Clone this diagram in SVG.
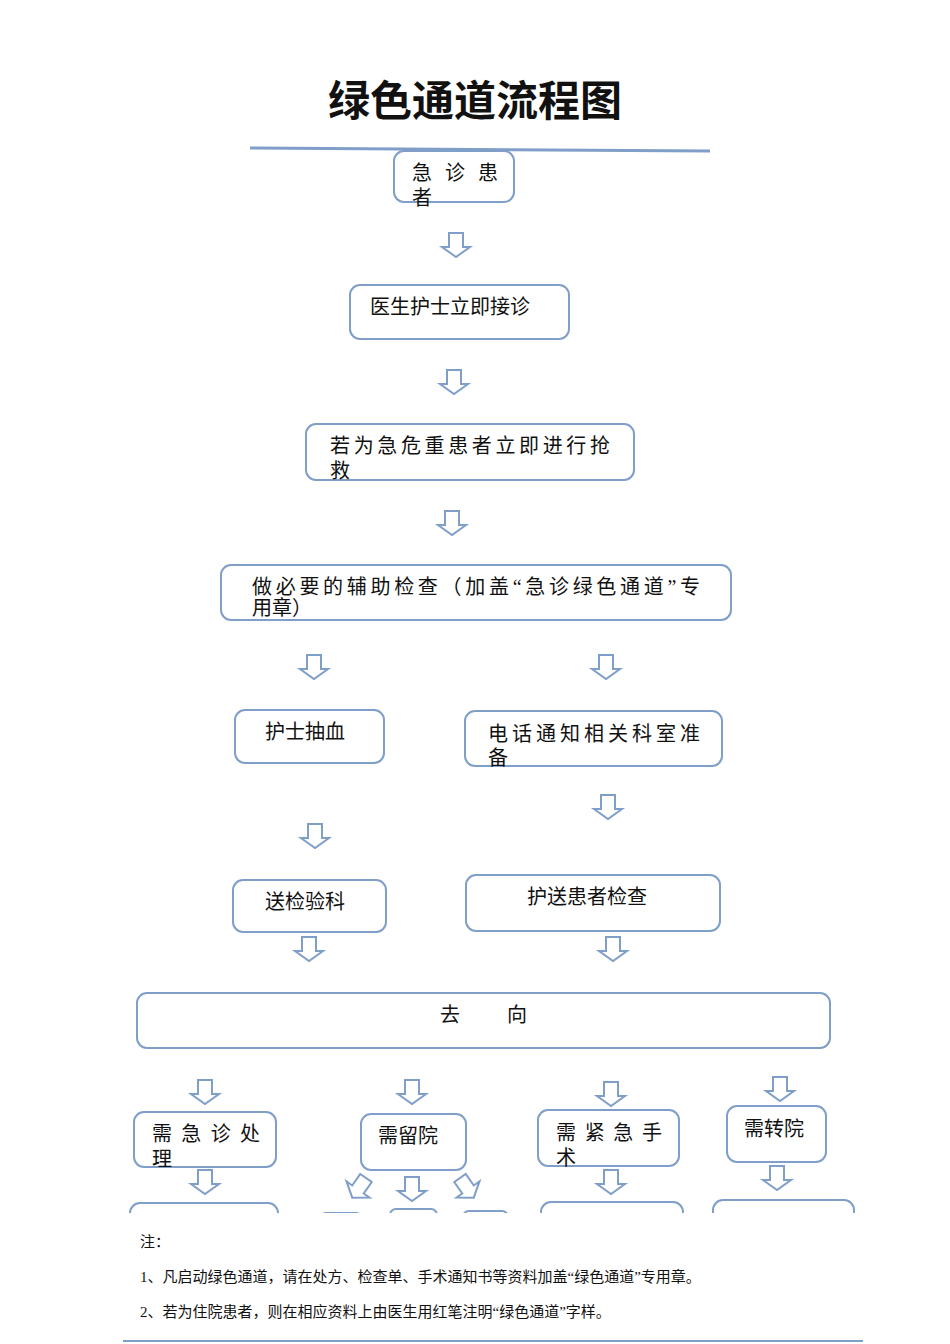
<svg xmlns="http://www.w3.org/2000/svg" xmlns:xlink="http://www.w3.org/1999/xlink" width="950" height="1344" viewBox="0 0 950 1344">
<style>
.b{fill:#fff;stroke:#7f9ec8;stroke-width:2}
.t{font-family:"Liberation Serif","Noto Sans CJK SC",serif;font-size:20px;fill:#111}
.n{font-family:"Liberation Serif","Noto Sans CJK SC",serif;font-size:15px;fill:#111}
.ar{fill:#fff;stroke:#7f9ec8;stroke-width:2}
</style>
<defs>
<path id="a" class="ar" d="M-7,0 H7 V14 H14 L0,24 L-14,14 H-7 Z"/>
<clipPath id="c"><rect x="0" y="0" width="950" height="1213"/></clipPath>
</defs>
<rect width="950" height="1344" fill="#fff"/>
<text x="475" y="116" text-anchor="middle" font-family="Noto Sans CJK SC,sans-serif" font-weight="bold" font-size="42" fill="#111">绿色通道流程图</text>
<line x1="250" y1="148" x2="710" y2="151" stroke="#7f9ec8" stroke-width="3"/>
<g id="connectors">
<use href="#a" x="456" y="233"/>
<use href="#a" x="454" y="370"/>
<use href="#a" x="452" y="511"/>
<use href="#a" x="314" y="655"/>
<use href="#a" x="606" y="655"/>
<use href="#a" x="608" y="795"/>
<use href="#a" x="315" y="824"/>
<use href="#a" x="309" y="937"/>
<use href="#a" x="613" y="937"/>
<use href="#a" x="205" y="1080"/>
<use href="#a" x="412" y="1080"/>
<use href="#a" x="611" y="1082"/>
<use href="#a" x="780" y="1077"/>
<use href="#a" x="205" y="1170"/>
<use href="#a" x="412" y="1177"/>
<use href="#a" x="611" y="1170"/>
<use href="#a" x="777" y="1166"/>
<use href="#a" transform="translate(366,1178) rotate(35)"/>
<use href="#a" transform="translate(460,1178) rotate(-35)"/>
</g>
<g id="n1"><rect class="b" x="394" y="151" width="120" height="51" rx="10"/><text class="t" x="412" y="180" textLength="86">急 诊 患</text><text class="t" x="412" y="205">者</text></g>
<g id="n2"><rect class="b" x="350" y="285" width="219" height="54" rx="10"/><text class="t" x="370" y="314">医生护士立即接诊</text></g>
<g id="n3"><rect class="b" x="306" y="424" width="328" height="56" rx="10"/><text class="t" x="330" y="453" textLength="280">若为急危重患者立即进行抢</text><text class="t" x="330" y="478">救</text></g>
<g id="n4"><rect class="b" x="221" y="565" width="510" height="55" rx="10"/><text class="t" x="252" y="594" textLength="448">做必要的辅助检查（加盖“急诊绿色通道”专</text><text class="t" x="252" y="615">用章）</text></g>
<g id="n5"><rect class="b" x="235" y="710" width="149" height="53" rx="10"/><text class="t" x="265" y="739">护士抽血</text></g>
<g id="n6"><rect class="b" x="465" y="711" width="257" height="55" rx="10"/><text class="t" x="488" y="741" textLength="212">电话通知相关科室准</text><text class="t" x="488" y="765">备</text></g>
<g id="n7"><rect class="b" x="233" y="880" width="153" height="52" rx="10"/><text class="t" x="265" y="909">送检验科</text></g>
<g id="n8"><rect class="b" x="466" y="875" width="254" height="56" rx="10"/><text class="t" x="527" y="904">护送患者检查</text></g>
<g id="n9"><rect class="b" x="137" y="993" width="693" height="55" rx="10"/><text class="t" x="440" y="1022">去</text><text class="t" x="507" y="1022">向</text></g>
<g id="n10"><rect class="b" x="134" y="1112" width="142" height="55" rx="10"/><text class="t" x="152" y="1141" textLength="108">需 急 诊 处</text><text class="t" x="152" y="1166">理</text></g>
<g id="n11"><rect class="b" x="361" y="1114" width="105" height="56" rx="10"/><text class="t" x="378" y="1143">需留院</text></g>
<g id="n12"><rect class="b" x="538" y="1110" width="141" height="56" rx="10"/><text class="t" x="556" y="1140" textLength="106">需 紧 急 手</text><text class="t" x="556" y="1165">术</text></g>
<g id="n13"><rect class="b" x="727" y="1106" width="99" height="56" rx="10"/><text class="t" x="744" y="1136">需转院</text></g>
<g clip-path="url(#c)">
<g id="n14"><rect class="b" x="130" y="1203" width="148" height="50" rx="10"/></g>
<g id="n15"><rect class="b" x="320" y="1213" width="42" height="50" rx="6"/></g>
<g id="n16"><rect class="b" x="390" y="1209" width="47" height="50" rx="6"/></g>
<g id="n17"><rect class="b" x="463" y="1211" width="45" height="50" rx="6"/></g>
<g id="n18"><rect class="b" x="541" y="1202" width="142" height="50" rx="10"/></g>
<g id="n19"><rect class="b" x="713" y="1200" width="141" height="50" rx="10"/></g>
</g>
<text class="n" x="140" y="1247">注：</text>
<text class="n" x="140" y="1282">1、凡启动绿色通道，请在处方、检查单、手术通知书等资料加盖“绿色通道”专用章。</text>
<text class="n" x="140" y="1317">2、若为住院患者，则在相应资料上由医生用红笔注明“绿色通道”字样。</text>
<line x1="123" y1="1341" x2="863" y2="1341" stroke="#7f9ec8" stroke-width="2"/>
</svg>
